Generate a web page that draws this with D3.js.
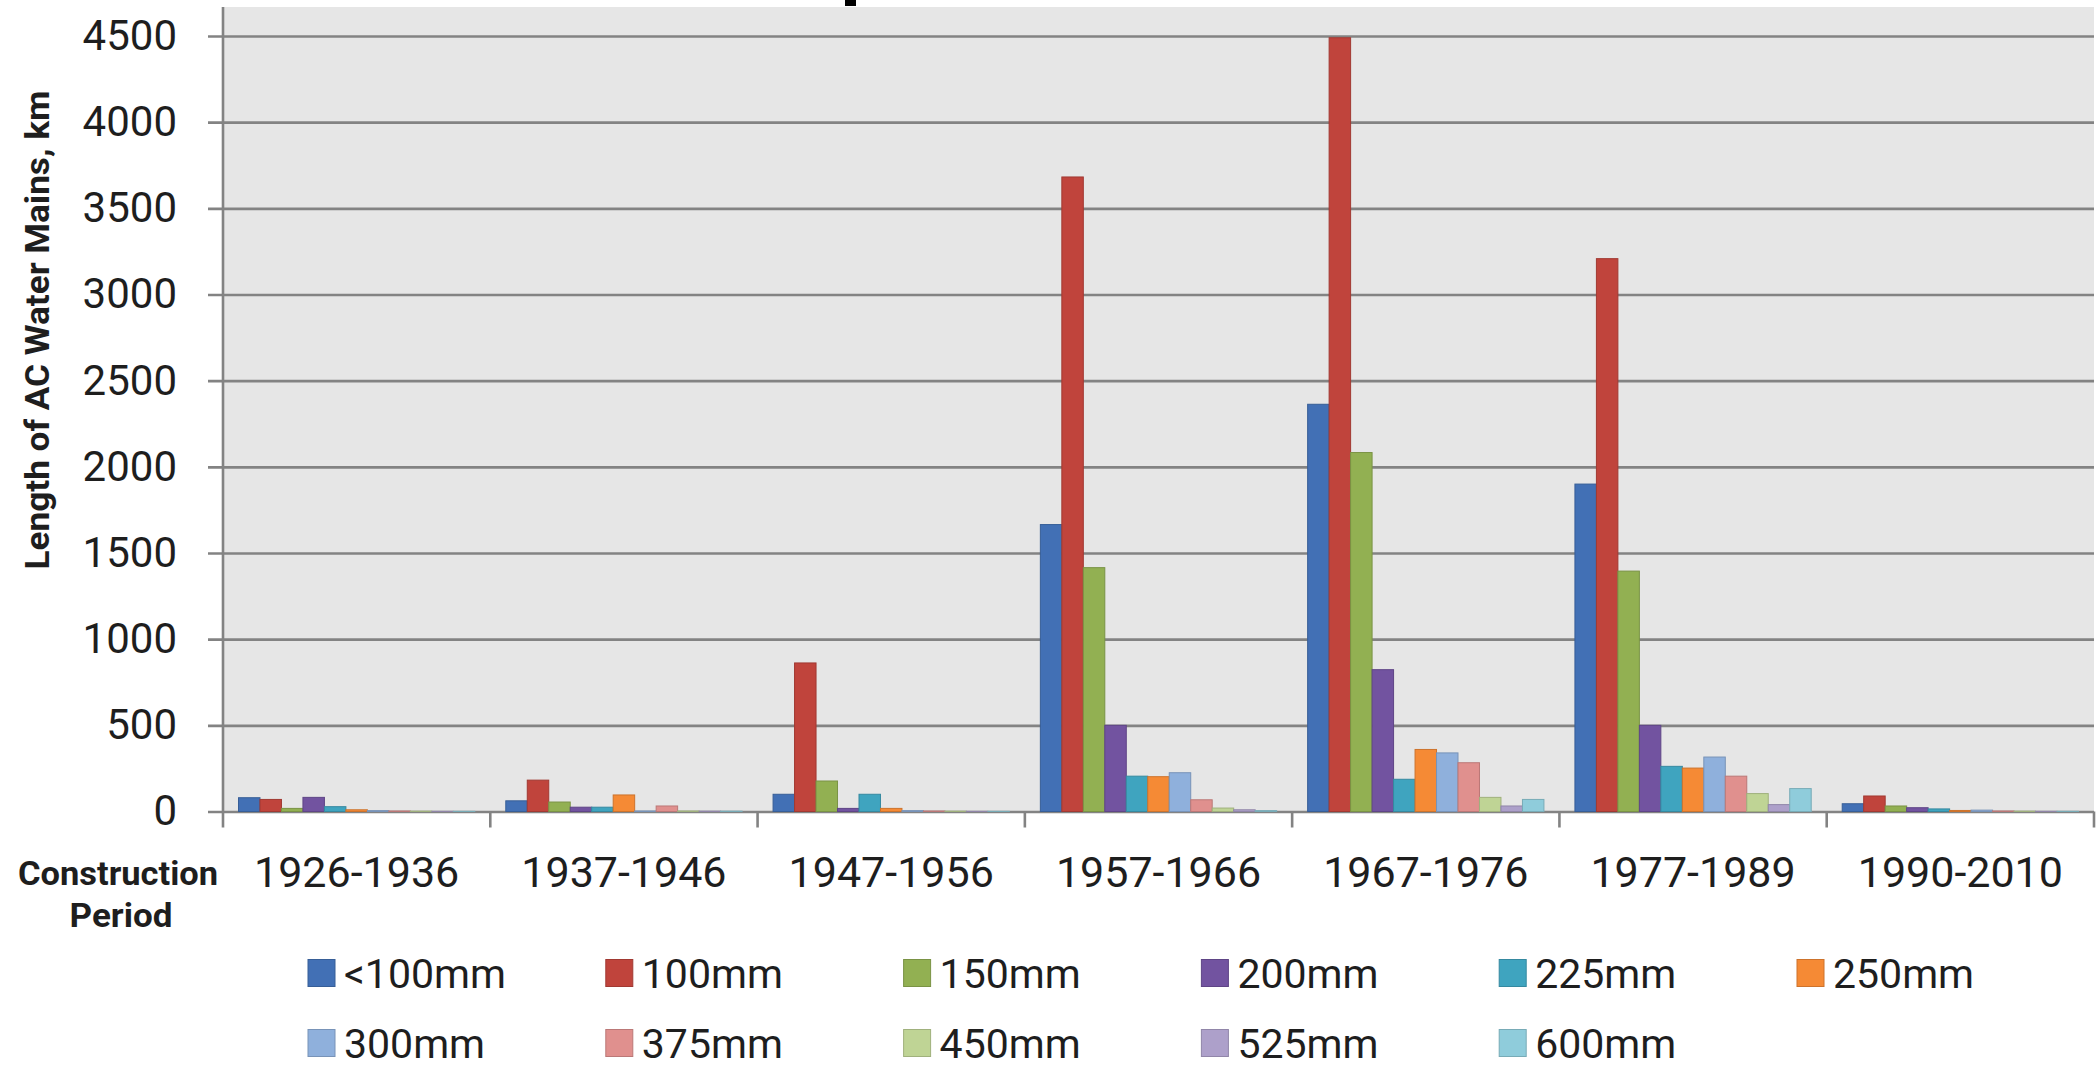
<!DOCTYPE html>
<html>
<head>
<meta charset="utf-8">
<script src="https://cdn.jsdelivr.net/npm/d3@7"></script>
<style>
  html, body { margin: 0; padding: 0; background: #ffffff; }
  svg { display: block; }
  text { font-family: Roboto, "Open Sans", sans-serif; fill: #1e1e1e; }
</style>
</head>
<body>
<svg id="chart" width="2098" height="1070"></svg>
<script>
// Construction periods (x categories)
const periods = ["1926-1936", "1937-1946", "1947-1956", "1957-1966", "1967-1976", "1977-1989", "1990-2010"];

// Pipe diameter classes (series)
const diameters = ["<100mm", "100mm", "150mm", "200mm", "225mm", "250mm", "300mm", "375mm", "450mm", "525mm", "600mm"];

// Length of AC water mains (km) per diameter, one value per period
const lenLt100 = [80, 62, 100, 1665, 2363, 1900, 45];
const len100   = [70, 182, 862, 3682, 4490, 3208, 90];
const len150   = [18, 55, 177, 1415, 2083, 1395, 32];
const len200   = [82, 25, 18, 500, 823, 500, 22];
const len225   = [28, 25, 100, 205, 187, 262, 15];
const len250   = [10, 96, 18, 202, 360, 252, 6];
const len300   = [5, 3, 5, 225, 340, 316, 8];
const len375   = [3, 32, 3, 68, 283, 205, 3];
const len450   = [2, 3, 2, 20, 82, 104, 2];
const len525   = [1, 2, 1, 10, 32, 40, 1];
const len600   = [1, 2, 1, 5, 70, 133, 1];

const seriesValues = [lenLt100, len100, len150, len200, len225, len250, len300, len375, len450, len525, len600];

// Y axis tick values
const yTicks = [0, 500, 1000, 1500, 2000, 2500, 3000, 3500, 4000, 4500];

const palette = ["#4270b5", "#c0443c", "#92b052", "#7253a0", "#3fa4bf", "#f58a35",
                 "#8fb0dc", "#e0908e", "#bfd495", "#ada0ca", "#8fccdb"];

// ---- layout ----
const plotLeft = 223, plotRight = 2094, plotTop = 7, zeroY = 811.5, topTickY = 36;

const svg = d3.select("#chart");

const x0 = d3.scaleBand()
  .domain(periods)
  .range([plotLeft, plotRight])
  .paddingInner(0.116)
  .paddingOuter(0.058);

const x1 = d3.scaleBand()
  .domain(diameters)
  .range([0, x0.bandwidth()]);

const y = d3.scaleLinear()
  .domain([0, 4500])
  .range([zeroY, topTickY]);

const color = d3.scaleOrdinal().domain(diameters).range(palette);

// plot background
svg.append("rect")
  .attr("x", plotLeft)
  .attr("y", plotTop)
  .attr("width", plotRight - plotLeft)
  .attr("height", zeroY - plotTop)
  .attr("fill", "#e6e6e6");

// gridlines + y tick labels
const yAxis = svg.append("g")
  .attr("transform", `translate(${plotLeft},0)`)
  .call(d3.axisLeft(y).tickValues(yTicks).tickFormat(d3.format("d")).tickSize(0).tickPadding(46));

yAxis.select(".domain").remove();
yAxis.selectAll(".tick line")
  .attr("x1", -15)
  .attr("x2", plotRight - plotLeft)
  .attr("stroke", "#838383")
  .attr("stroke-width", 2.6);
yAxis.selectAll(".tick text")
  .attr("font-size", 42)
  .attr("font-family", "Roboto, sans-serif")
  .attr("fill", "#1e1e1e");

// bars
const groups = svg.append("g")
  .selectAll("g")
  .data(periods)
  .join("g")
  .attr("transform", d => `translate(${x0(d)},0)`);

groups.selectAll("rect")
  .data((p, pi) => diameters.map((dname, si) => ({ dname, v: seriesValues[si][pi] })))
  .join("rect")
  .attr("x", d => x1(d.dname))
  .attr("y", d => y(d.v))
  .attr("width", x1.bandwidth())
  .attr("height", d => zeroY - y(d.v))
  .attr("fill", d => color(d.dname))
  .attr("stroke", d => d3.color(color(d.dname)).darker(0.5))
  .attr("stroke-width", 1);

// vertical axis line
svg.append("line")
  .attr("x1", plotLeft).attr("x2", plotLeft)
  .attr("y1", plotTop).attr("y2", zeroY + 16)
  .attr("stroke", "#838383")
  .attr("stroke-width", 2.6);

// category boundary ticks below the baseline
const step = x0.step();
const boundaries = d3.range(periods.length + 1).map(i => plotLeft + i * step);
svg.append("g")
  .selectAll("line")
  .data(boundaries.slice(1))
  .join("line")
  .attr("x1", d => d).attr("x2", d => d)
  .attr("y1", zeroY).attr("y2", zeroY + 16)
  .attr("stroke", "#838383")
  .attr("stroke-width", 2.6);

// category labels
svg.append("g")
  .selectAll("text")
  .data(periods)
  .join("text")
  .attr("x", d => x0(d) + x0.bandwidth() / 2)
  .attr("y", 887)
  .attr("text-anchor", "middle")
  .attr("font-size", 43)
  .text(d => d);

// x axis title
svg.append("text")
  .attr("x", 118).attr("y", 885)
  .attr("text-anchor", "middle")
  .attr("font-size", 33)
  .attr("font-weight", "bold")
  .attr("textLength", 200)
  .attr("lengthAdjust", "spacingAndGlyphs")
  .text("Construction");
svg.append("text")
  .attr("x", 121).attr("y", 927)
  .attr("text-anchor", "middle")
  .attr("font-size", 33)
  .attr("font-weight", "bold")
  .attr("textLength", 103)
  .attr("lengthAdjust", "spacingAndGlyphs")
  .text("Period");

// y axis title
svg.append("text")
  .attr("transform", "translate(49,330) rotate(-90)")
  .attr("text-anchor", "middle")
  .attr("font-size", 33)
  .attr("font-weight", "bold")
  .attr("textLength", 479)
  .attr("lengthAdjust", "spacingAndGlyphs")
  .text("Length of AC Water Mains, km");

// small dark mark at the top edge of the figure
svg.append("rect")
  .attr("x", 845).attr("y", 0)
  .attr("width", 11).attr("height", 6)
  .attr("fill", "#000");

// legend: six columns, two rows
const legendX0 = 308, legendDx = 297.8, legendRows = [973, 1043], swatch = 27;
const legend = svg.append("g")
  .selectAll("g")
  .data(diameters)
  .join("g")
  .attr("transform", (d, i) => `translate(${legendX0 + (i % 6) * legendDx},${legendRows[Math.floor(i / 6)]})`);

legend.append("rect")
  .attr("x", 0).attr("y", -swatch / 2)
  .attr("width", swatch).attr("height", swatch)
  .attr("fill", d => color(d))
  .attr("stroke", d => d3.color(color(d)).darker(0.5))
  .attr("stroke-width", 1);

legend.append("text")
  .attr("x", swatch + 9)
  .attr("y", 0)
  .attr("dy", "0.36em")
  .attr("font-size", 41)
  .text(d => d);
</script>
</body>
</html>
